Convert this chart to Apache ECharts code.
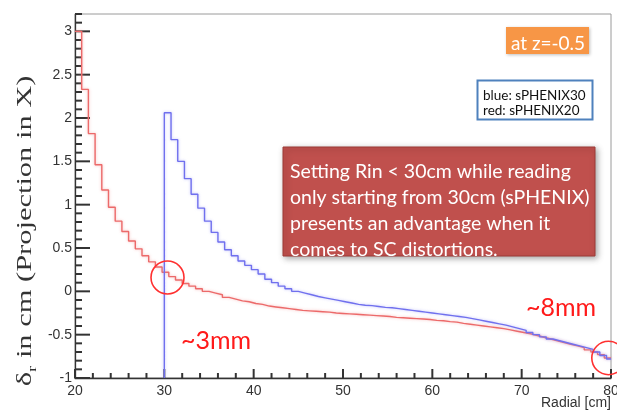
<!DOCTYPE html>
<html><head><meta charset="utf-8">
<script src="https://cdn.jsdelivr.net/npm/echarts@6/dist/echarts.min.js"></script>
<style>html,body{margin:0;padding:0;background:#fff}#c{width:617px;height:410px}</style>
</head><body><div id="c"></div>
<script>
// ---- data ----
const binWidth = 0.75;           // cm per histogram bin
const xEnd = 80;
const redStart = 20;             // sPHENIX20
const redValues = [
  3.00, 2.33, 1.82, 1.46, 1.17, 0.97, 0.81, 0.69, 0.58, 0.49,
  0.41, 0.34, 0.28, 0.22, 0.17, 0.13, 0.09, 0.06, 0.03, 0.00,
  -0.02, -0.04, -0.07, -0.09, -0.11, -0.12, -0.14, -0.15, -0.17, -0.18,
  -0.19, -0.20, -0.21, -0.22, -0.225, -0.23, -0.235, -0.24, -0.25, -0.255,
  -0.26, -0.265, -0.27, -0.275, -0.28, -0.285, -0.29, -0.30, -0.305, -0.31,
  -0.315, -0.32, -0.325, -0.335, -0.34, -0.35, -0.355, -0.37, -0.38, -0.39,
  -0.40, -0.41, -0.42, -0.43, -0.445, -0.46, -0.475, -0.49, -0.51, -0.53,
  -0.55, -0.57, -0.59, -0.61, -0.63, -0.65, -0.675, -0.70, -0.73, -0.77
];
const blueStart = 30;            // sPHENIX30
const blueValues = [
  2.06, 1.75, 1.50, 1.30, 1.12, 0.96, 0.81, 0.68, 0.57, 0.48,
  0.41, 0.35, 0.30, 0.25, 0.20, 0.14, 0.10, 0.06, 0.03, 0.00,
  -0.02, -0.04, -0.06, -0.075, -0.09, -0.105, -0.12, -0.135, -0.15, -0.16,
  -0.165, -0.175, -0.185, -0.19, -0.20, -0.21, -0.22, -0.23, -0.24, -0.25,
  -0.26, -0.27, -0.28, -0.29, -0.30, -0.315, -0.33, -0.345, -0.36, -0.375,
  -0.39, -0.41, -0.43, -0.45, -0.475, -0.50, -0.525, -0.55, -0.57, -0.59,
  -0.61, -0.63, -0.65, -0.67, -0.70, -0.74, -0.78
];
const yMajorTicks = [-1, -0.5, 0, 0.5, 1, 1.5, 2, 2.5, 3];
const xRange = [20, 80];
const yRange = [-1, 3.2];

function histPoints(start, vals, end, baseline) {
  const pts = [];
  if (baseline !== undefined) pts.push([start, baseline]);
  vals.forEach((v, i) => pts.push([+(start + i * binWidth).toFixed(4), v]));
  pts.push([end, vals[vals.length - 1]]);
  return pts;
}

// tick marks (axis: 0 = x, 1 = y), value, length in px
const tickItems = [];
for (let i = 0; i <= 30; i++) { const v = xRange[0] + i * 2; tickItems.push([0, v, i % 5 === 0 ? 9 : 5]); }
for (let i = 0; i <= 42; i++) { const v = +(yRange[0] + i * 0.1).toFixed(2); tickItems.push([1, v, i % 5 === 0 ? 15 : 7]); }

const chart = echarts.init(document.getElementById('c'), null, {renderer: 'canvas'});
const axisCol = '#333';
const labelFont = 'Liberation Sans, Arial, sans-serif';
const boxFont = 'Lato, "Open Sans", sans-serif';

chart.setOption({
  animation: false,
  backgroundColor: '#fff',
  grid: {left: 75, right: 6, top: 14, bottom: 32, show: true, borderColor: '#9a9a9a', borderWidth: 1,
         containLabel: false, outerBoundsMode: 'none'},
  xAxis: {
    type: 'value', min: xRange[0], max: xRange[1], interval: 10,
    axisLine: {show: true, onZero: false, lineStyle: {color: '#333', width: 1.3}},
    axisTick: {show: false},
    splitLine: {show: false},
    axisLabel: {color: '#333', fontSize: 14, fontFamily: labelFont, margin: 6}
  },
  yAxis: {
    type: 'value', min: yRange[0], max: yRange[1],
    axisLine: {show: true, onZero: false, lineStyle: {color: '#333', width: 1.3}},
    axisTick: {show: false},
    splitLine: {show: false},
    axisLabel: {color: '#333', fontSize: 14, fontFamily: labelFont, margin: 3, customValues: yMajorTicks}
  },
  series: [{
    type: 'custom', silent: true, z: 2, clip: false,
    data: tickItems,
    encode: {x: -1, y: -1},
    renderItem: function (params, api) {
      const axis = api.value(0), v = api.value(1), len = api.value(2);
      let p, shape;
      if (axis === 0) {
        p = api.coord([v, yRange[0]]);
        shape = {x1: p[0], y1: p[1], x2: p[0], y2: p[1] - len};
      } else {
        p = api.coord([xRange[0], v]);
        shape = {x1: p[0], y1: p[1], x2: p[0] + len, y2: p[1]};
      }
      return {type: 'line', shape: shape, style: {stroke: axisCol, lineWidth: 2}};
    }
  }, {
    name: 'red: sPHENIX20', type: 'line', step: 'end', symbol: 'none',
    data: histPoints(redStart, redValues, xEnd),
    lineStyle: {color: '#ec6a6a', width: 1.4, shadowColor: 'rgba(240,140,140,0.6)', shadowBlur: 3},
    z: 3
  }, {
    name: 'blue: sPHENIX30', type: 'line', step: 'end', symbol: 'none',
    data: histPoints(blueStart, blueValues, xEnd, yRange[0]),
    lineStyle: {color: '#7070ee', width: 1.4, shadowColor: 'rgba(150,150,245,0.6)', shadowBlur: 3},
    z: 4
  }],
  graphic: [
    {type: 'text', x: 25, y: 231, rotation: Math.PI / 2, scaleX: 1.45, scaleY: 1, z: 10,
     style: {text: '{m|δ}{s|r}{m| in cm (Projection in X)}', align: 'center', verticalAlign: 'middle',
       rich: {m: {fontSize: 21, lineHeight: 28, fontFamily: 'Liberation Serif, serif', fill: '#333', verticalAlign: 'middle'},
              s: {fontSize: 13, lineHeight: 14, fontFamily: 'Liberation Serif, serif', fill: '#333', verticalAlign: 'bottom'}}}},
    {type: 'text', x: 611, y: 403, z: 10,
     style: {text: 'Radial [cm]', align: 'right', verticalAlign: 'middle', fontSize: 14, fontFamily: labelFont, fill: '#333'}},
    // orange label
    {type: 'rect', shape: {x: 506, y: 27, width: 83, height: 27}, z: 10,
     style: {fill: '#f79646', shadowColor: 'rgba(0,0,0,0.25)', shadowBlur: 3, shadowOffsetX: 1, shadowOffsetY: 1}},
    {type: 'text', x: 548, y: 44, z: 11,
     style: {text: 'at z=-0.5', align: 'center', verticalAlign: 'middle', fontSize: 19, fontFamily: boxFont, fill: '#fff'}},
    // legend box
    {type: 'rect', shape: {x: 477.5, y: 80.5, width: 115, height: 39}, z: 10,
     style: {fill: '#fff', stroke: '#4f81bd', lineWidth: 2}},
    {type: 'text', x: 483, y: 96, z: 11,
     style: {text: 'blue: sPHENIX30', verticalAlign: 'middle', fontSize: 13.5, fontFamily: boxFont, fill: '#111'}},
    {type: 'text', x: 483, y: 110.5, z: 11,
     style: {text: 'red: sPHENIX20', verticalAlign: 'middle', fontSize: 13.5, fontFamily: boxFont, fill: '#111'}},
    // red comment box
    {type: 'rect', shape: {x: 283, y: 147, width: 312, height: 109}, z: 10,
     style: {fill: '#c0504d', stroke: '#9c3a37', lineWidth: 1, shadowColor: 'rgba(0,0,0,0.35)', shadowBlur: 6, shadowOffsetX: 2, shadowOffsetY: 2}},
    {type: 'text', x: 290, y: 158.5, z: 11,
     style: {text: 'Setting Rin < 30cm while reading\nonly starting from 30cm (sPHENIX)\npresents an advantage when it\ncomes to SC distortions.',
       verticalAlign: 'top', fontSize: 19.5, lineHeight: 26, fontFamily: boxFont, fill: '#fff'}},
    // circles and annotations
    {type: 'circle', shape: {cx: 167.5, cy: 277.5, r: 16.5}, z: 12,
     style: {fill: 'none', stroke: '#ff3030', lineWidth: 1.6}},
    {type: 'circle', shape: {cx: 608.5, cy: 358, r: 16.7}, z: 12,
     style: {fill: 'none', stroke: '#ff3030', lineWidth: 1.6}},
    {type: 'text', x: 181, y: 341, z: 12,
     style: {text: '~3mm', verticalAlign: 'middle', fontSize: 25, fontFamily: boxFont, fill: '#ff1a1a'}},
    {type: 'text', x: 526, y: 308, z: 12,
     style: {text: '~8mm', verticalAlign: 'middle', fontSize: 25, fontFamily: boxFont, fill: '#ff1a1a'}}
  ]
});
</script></body></html>
